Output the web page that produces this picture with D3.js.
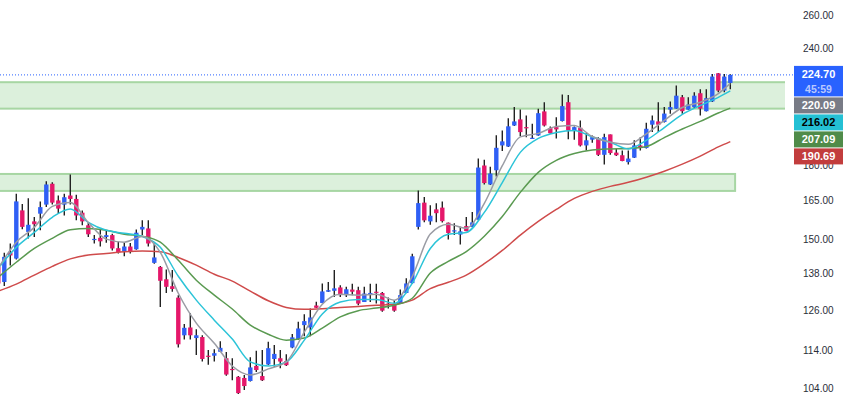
<!DOCTYPE html>
<html><head><meta charset="utf-8">
<script src="https://cdn.jsdelivr.net/npm/d3@7/dist/d3.min.js"></script>
<style>html,body{margin:0;padding:0;background:#fff;overflow:hidden}svg{display:block}</style>
</head><body>
<script>
// ---- data ----
const firstIndex = -1;
const opens  = [140.1,135.0,145.1,143.0,161.0,152.7,156.7,159.7,163.3,171.9,165.0,163.3,167.0,165.6,160.1,155.2,149.9,150.5,150.8,151.5,146.7,145.5,147.3,146.3,153.6,154.0,141.5,140.1,135.9,133.6,129.9,118.4,120.7,117.6,117.9,112.6,112.6,113.7,111.9,109.0,106.9,106.6,105.8,109.8,107.1,110.2,111.7,111.9,111.1,114.9,117.3,121.4,120.7,127.4,128.2,131.8,132.1,133.2,130.7,132.5,132.3,128.5,130.9,131.8,131.4,128.0,127.8,128.0,131.4,134.6,154.6,164.1,156.7,161.4,162.1,156.2,153.1,151.7,154.9,154.6,157.4,179.8,171.6,177.7,188.9,188.4,198.4,201.4,197.6,192.2,193.6,205.4,197.1,197.6,200.6,210.1,195.7,197.3,188.9,191.6,192.1,184.6,194.1,185.6,184.4,181.3,183.3,188.9,187.7,198.8,200.4,200.1,206.3,206.8,212.7,206.3,207.6,214.8,205.5,210.5,225.6,216.2,220.3];
const highs  = [141.4,145.1,148.4,167.7,163.6,165.9,158.4,164.6,173.0,172.5,167.0,167.7,175.9,167.3,161.0,156.2,151.5,153.7,153.3,152.0,149.0,148.6,148.6,153.6,157.1,157.1,148.4,140.4,139.2,139.0,130.7,121.7,125.0,120.2,118.4,114.2,114.4,116.7,113.6,111.9,107.1,107.4,112.2,114.0,114.2,116.5,115.6,114.2,113.0,118.8,122.4,124.7,126.5,128.6,134.5,135.0,139.0,133.9,133.4,134.4,133.4,133.4,134.4,134.4,131.7,129.9,129.1,132.5,136.2,144.7,169.1,166.4,163.0,163.9,164.6,156.3,156.0,154.6,158.4,160.4,182.9,182.4,179.2,193.7,196.0,202.0,207.7,206.4,203.4,199.2,206.8,210.1,197.9,202.5,214.1,213.8,197.9,200.9,194.6,193.6,192.8,194.4,194.1,187.4,186.6,186.6,191.3,192.8,199.8,203.4,210.1,207.6,210.5,218.9,213.9,212.7,215.3,216.9,216.9,225.2,225.7,225.2,225.1];
const lows   = [132.9,133.7,140.6,142.7,153.7,150.2,150.8,153.3,162.3,163.3,159.7,159.0,163.3,157.1,155.2,150.8,148.4,147.3,148.7,145.9,144.8,143.8,144.8,146.1,151.5,147.3,141.2,126.9,131.4,131.8,114.9,117.2,117.2,112.8,111.0,110.1,111.0,113.6,107.2,106.0,102.5,103.5,105.7,108.2,105.8,110.0,109.6,109.2,109.8,114.7,117.1,118.1,118.1,126.6,128.1,131.7,130.1,130.1,130.1,130.7,127.5,128.5,128.5,128.0,125.5,126.5,125.5,128.0,131.3,134.3,153.6,156.4,155.4,156.4,156.3,149.9,151.5,148.0,152.9,154.5,157.1,171.6,171.4,175.0,186.3,188.2,198.2,193.2,192.8,192.1,193.4,197.9,194.4,192.1,200.4,191.8,191.6,188.4,186.6,190.2,184.1,180.2,184.6,184.1,181.7,180.2,183.2,186.6,187.5,195.2,195.2,199.9,204.2,206.7,204.2,206.2,207.1,203.4,205.4,210.2,215.3,215.3,216.9];
const closes = [134.5,143.6,144.1,164.6,154.6,155.4,155.6,162.3,171.6,164.1,161.7,166.3,165.6,159.0,156.7,151.8,150.1,149.2,151.5,146.6,145.2,147.3,145.5,152.4,154.6,148.4,143.4,135.4,133.4,132.7,115.8,120.6,118.4,118.4,111.7,112.4,113.3,114.8,107.5,108.8,102.7,104.5,109.4,108.7,106.0,114.7,113.1,111.0,110.0,117.8,120.4,122.6,123.7,126.7,131.9,132.3,132.9,130.7,132.6,131.8,128.0,131.2,131.4,131.5,125.8,127.5,125.8,130.7,134.5,143.8,163.9,157.1,158.9,159.9,156.8,152.3,153.3,152.9,153.0,156.3,178.9,172.2,176.3,187.8,190.8,198.0,200.4,195.2,197.1,192.5,204.5,198.4,194.7,196.5,208.1,196.0,197.6,188.9,191.3,192.8,184.6,192.8,185.4,184.4,181.8,182.9,188.9,187.7,196.8,200.9,198.8,204.3,207.6,213.5,205.5,208.9,213.5,206.8,212.2,223.8,216.2,223.8,224.7];

// moving average lines, read at these candle indices
const maIndex = [-1,2,5,8,11,14,17,20,23,26,29,32,35,38,41,44,47,50,53,56,59,62,65,68,71,74,77,80,83,86,89,92,95,98,101,104,107,110,113,116,119,121];
const maGray  = [139.7,148.9,154.4,162.6,164.2,156.3,150.0,148.9,151.0,145.2,131.3,122.0,116.1,109.8,107.4,109.0,110.9,119.3,127.8,131.0,130.7,131.0,129.1,136.9,151.9,155.6,154.1,163.8,179.7,192.9,194.6,197.9,198.4,193.1,190.4,189.4,194.4,200.9,207.4,210.1,214.6,220.09];
const maCyan  = [139.7,147.0,152.5,158.3,161.6,156.3,153.3,152.2,151.0,147.0,136.9,129.1,122.9,117.3,110.9,109.8,110.9,117.0,124.8,128.5,129.3,129.3,128.1,134.6,146.6,151.8,152.5,160.2,172.4,185.7,192.2,195.0,196.0,192.9,190.4,187.3,191.3,197.4,203.9,208.4,212.6,216.02];
const maGreen = [136.6,141.7,146.6,150.3,153.5,154.0,153.3,151.8,151.1,148.9,142.4,135.6,130.7,126.3,121.4,118.7,117.0,117.6,120.5,123.9,125.8,126.6,127.5,129.7,138.0,142.0,145.5,151.1,158.6,168.3,176.8,182.1,185.2,186.8,187.3,187.5,188.4,192.6,196.7,200.4,204.6,207.09];
const maRed   = [132.0,134.3,137.3,140.3,142.9,144.3,144.8,145.4,145.7,145.4,143.4,140.7,137.6,135.3,132.0,128.9,126.8,126.2,126.4,126.8,127.1,127.5,127.8,129.1,132.8,134.9,137.3,141.2,145.9,151.5,156.7,161.4,165.8,168.7,170.8,172.5,174.7,177.3,180.4,184.0,188.2,190.69];

// price zones
const zoneLow   = [206.8, 168.9];
const zoneHigh  = [220.7, 176.1];
const zoneEnd   = [null, 121.8];   // candle index where the zone stops (null = extends right)

const priceTicks = [104,114,126,138,150,165,180,200,220,240,260];
const countdown = "45:59";

// ---- drawing ----
const W = 843, H = 406, plotW = 785;
const svg = d3.select("body").append("svg").attr("width", W).attr("height", H)
  .style("font-family", "'Liberation Sans', Arial, sans-serif");

const x = d3.scaleLinear().domain([0, 121]).range([4.3, 730.3]);
const y = d3.scaleLog().domain([104, 260]).range([388, 15.6]);

svg.append("clipPath").attr("id", "plot").append("rect")
  .attr("x", 0).attr("y", 0).attr("width", plotW).attr("height", H);
const plot = svg.append("g").attr("clip-path", "url(#plot)");

// zones
zoneLow.forEach((lo, i) => {
  const x1 = zoneEnd[i] == null ? plotW + 10 : x(zoneEnd[i]);
  const top = y(zoneHigh[i]), bot = y(lo);
  plot.append("rect").attr("x", -10).attr("y", top).attr("width", x1 + 10).attr("height", bot - top)
    .attr("fill", "#dcf0dc").attr("stroke", "#a7d6a3").attr("stroke-width", 2);
});

// current price dotted line
const last = closes[closes.length - 1];
svg.append("line").attr("x1", 0).attr("x2", 794).attr("y1", y(last)).attr("y2", y(last))
  .attr("stroke", "#2962ff").attr("stroke-width", 1).attr("stroke-dasharray", "1,2");

// candles
const candles = closes.map((c, i) => ({ i: i + firstIndex, o: opens[i], h: highs[i], l: lows[i], c }));
const up = "#2f5ff5", down = "#e5176a";
const bw = 4.4;
const cg = plot.append("g");
cg.selectAll("line.wick").data(candles).join("line").attr("class", "wick")
  .attr("x1", d => x(d.i)).attr("x2", d => x(d.i))
  .attr("y1", d => y(d.h)).attr("y2", d => y(d.l))
  .attr("stroke", "#222").attr("stroke-width", 1.4);
cg.selectAll("rect.body").data(candles).join("rect").attr("class", "body")
  .attr("x", d => x(d.i) - bw / 2).attr("width", bw)
  .attr("y", d => y(Math.max(d.o, d.c)))
  .attr("height", d => Math.max(1.2, Math.abs(y(d.o) - y(d.c))))
  .attr("fill", d => d.c >= d.o ? up : down);

// moving averages
const maSeries = [
  { v: maRed,   color: "#cf4b4b", box: "#c23d3d", txt: "#fff" },
  { v: maGreen, color: "#5a9a51", box: "#4f8b49", txt: "#fff" },
  { v: maCyan,  color: "#2cc4d8", box: "#24c0d4", txt: "#000" },
  { v: maGray,  color: "#9a9ca4", box: "#787b86", txt: "#fff" }
];
const lineGen = d3.line().x(d => x(d[0])).y(d => y(d[1])).curve(d3.curveMonotoneX);
maSeries.forEach(s => {
  plot.append("path").datum(maIndex.map((k, j) => [k, s.v[j]]))
    .attr("d", lineGen).attr("fill", "none").attr("stroke", s.color)
    .attr("stroke-width", 1.5).attr("stroke-linejoin", "round");
});

// label box layout (price label + indicator labels, pushed down so they don't overlap)
const boxX = 794, boxW = 49;
const priceTop = y(last) - 9;
const boxes = [{ top: priceTop, h: 30.5, fill: "#2962ff" }];
let nextTop = priceTop + 30.5 + 1;
const ordered = maSeries.map(s => ({ ...s, val: s.v[s.v.length - 1] })).sort((a, b) => b.val - a.val);
ordered.forEach(s => {
  const top = Math.max(y(s.val) - 8, nextTop);
  s.top = top;
  boxes.push({ top, h: 16 });
  nextTop = top + 16 + 1;
});

// price axis (ticks hidden behind the label boxes are dropped)
const axis = d3.axisRight(y).tickValues(priceTicks).tickSize(0).tickPadding(4)
  .tickFormat(d3.format(".2f"));
const ag = svg.append("g").attr("transform", "translate(799,0)").call(axis);
ag.select(".domain").remove();
ag.selectAll(".tick").filter(d => boxes.some(b => y(d) >= b.top && y(d) <= b.top + b.h)).remove();
ag.selectAll("text").attr("fill", "#2a2e39").style("font-size", "10px")
  .style("font-family", "'Liberation Sans', Arial, sans-serif");

// right-side value labels
const lg = svg.append("g");
lg.append("rect").attr("x", boxX).attr("y", priceTop).attr("width", boxW).attr("height", 30.5).attr("fill", "#2962ff");
lg.append("text").attr("x", boxX + boxW / 2).attr("y", priceTop + 8.5).attr("dy", "0.35em")
  .attr("text-anchor", "middle").attr("fill", "#fff").style("font-size", "11px").style("font-weight", "bold")
  .text(d3.format(".2f")(last));
lg.append("text").attr("x", boxX + boxW / 2).attr("y", priceTop + 23).attr("dy", "0.35em")
  .attr("text-anchor", "middle").attr("fill", "#b9c8ff").style("font-size", "10.5px").style("font-weight", "bold")
  .text(countdown);
ordered.forEach(s => {
  lg.append("rect").attr("x", boxX).attr("y", s.top).attr("width", boxW).attr("height", 16).attr("fill", s.box);
  lg.append("text").attr("x", boxX + boxW / 2).attr("y", s.top + 8).attr("dy", "0.35em")
    .attr("text-anchor", "middle").attr("fill", s.txt).style("font-size", "11px").style("font-weight", "bold")
    .text(d3.format(".2f")(s.val));
});
</script>
</body></html>
